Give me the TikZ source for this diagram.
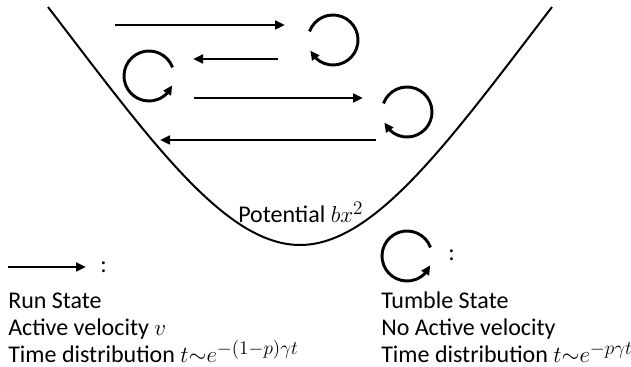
\documentclass[tikz,border=0pt]{standalone}
\usepackage{fontspec}
\setmainfont{Carlito}
\usepackage{amsmath}
\usepackage{tikz}
\usetikzlibrary{arrows.meta, bending}
\DeclareMathSizes{18}{18.5}{13.5}{10.5}
\tikzset{
  runarrow/.style={-{Triangle[length=7.5pt,width=6.5pt]},line width=2.2pt,color=black},
  tumbleloop/.style={-{Triangle[length=7pt,width=6.5pt]},line width=2.2pt,color=black},
  well/.style={line width=1.5pt,color=black},
  legend/.style={anchor=base west,inner sep=0pt,font=\fontsize{18}{22}\selectfont}
}

\begin{document}
\begin{tikzpicture}[x=0.75pt,y=0.75pt]
  \useasboundingbox (0,0) rectangle (631,367);

  % Potential well
  \draw[well] (48,360) .. controls (150,227) and (225,122) .. (300,122)
    .. controls (375,122) and (450,227) .. (552,360);
  \node[legend] (potential) at (238,144) {Potential $bx^2$};

  % Runs and tumbles inside the well
  \draw[runarrow] (115,342) -- (285,342);
  \draw[tumbleloop] (333,327) ++(160:25) arc[start angle=160, end angle=-155, radius=25];
  \draw[runarrow] (278,308) -- (193,308);
  \draw[tumbleloop] (149,291) ++(20:25) arc[start angle=20, end angle=338, radius=25];
  \draw[runarrow] (194,269) -- (363,269);
  \draw[tumbleloop] (407,255) ++(160:25) arc[start angle=160, end angle=-155, radius=25];
  \draw[runarrow] (376,227) -- (160,227);

  % Legend: run state
  \draw[runarrow] (8,100) -- (86,100);
  \node[legend] (runcolon) at (100,94) {:};
  \node[legend] (runstate) at (8,58) {Run State};
  \node[legend] (runvel) at (8,31) {Active velocity $v$};
  \node[legend] (runtime) at (8,4) {Time distribution $t{\sim}e^{-(1-p)\gamma t}$};

  % Legend: tumble state
  \draw[tumbleloop] (407,111) ++(20:25) arc[start angle=20, end angle=338, radius=25];
  \node[legend] (tumblecolon) at (448,106) {:};
  \node[legend] (tumblestate) at (381,58) {Tumble State};
  \node[legend] (tumblevel) at (381,31) {No Active velocity};
  \node[legend] (tumbletime) at (381,4) {Time distribution $t{\sim}e^{-p\gamma t}$};
\end{tikzpicture}
\end{document}
